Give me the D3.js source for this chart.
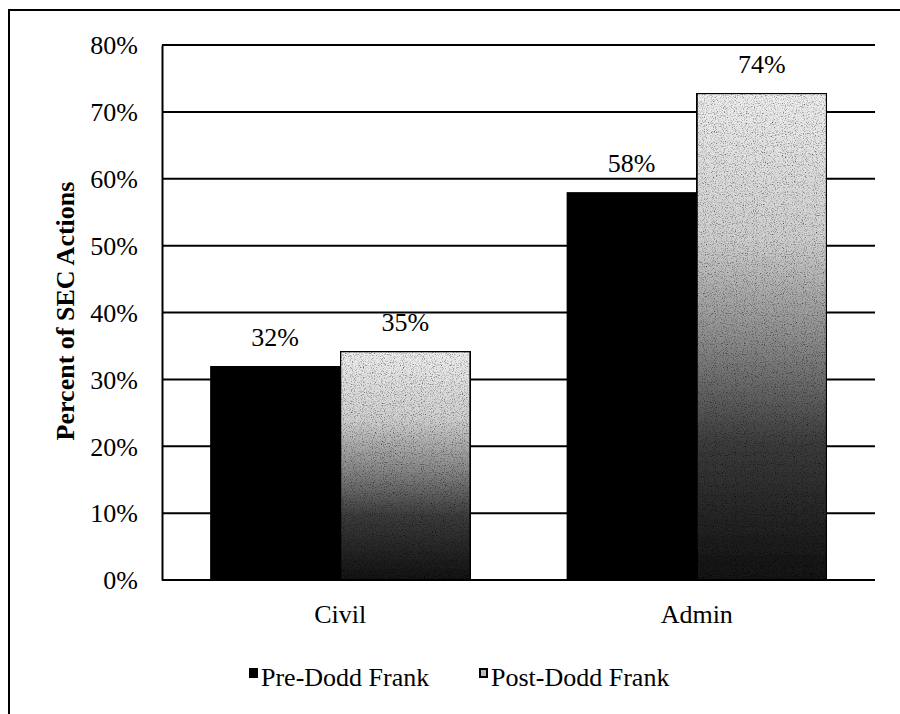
<!DOCTYPE html>
<html><head><meta charset="utf-8">
<script src="https://cdn.jsdelivr.net/npm/d3@7"></script>
<style>body{margin:0;background:#fff;} svg{display:block;} svg text{font-family:"Liberation Serif","Times New Roman",serif;fill:#000;}</style>
</head><body>
<svg id="chart" width="900" height="714"></svg>
<script>
const categories = ["Civil", "Admin"];
const seriesNames = ["Pre-Dodd Frank", "Post-Dodd Frank"];
const preValues = [32, 58];
const postValues = [34.2, 72.8];
const preLabels = ["32%", "58%"];
const postLabels = ["35%", "74%"];
const yTicks = [0, 10, 20, 30, 40, 50, 60, 70, 80];

const svg = d3.select("#chart");
const W = 900, H = 714;
const FS = 26;
const m = {left: 162, right: 25, top: 45, bottom: 134};
const x0 = d3.scaleBand().domain(categories).range([m.left, W - m.right]).paddingInner(0.27).paddingOuter(0.135);
const x1 = d3.scaleBand().domain(seriesNames).range([0, x0.bandwidth()]);
const y = d3.scaleLinear().domain([0, 80]).range([H - m.bottom, m.top]);

const defs = svg.append("defs");
const grad = defs.append("linearGradient").attr("id", "postGrad").attr("x1", 0).attr("y1", 0).attr("x2", 0).attr("y2", 1);
[[0, "#eeeeee"], [0.3, "#cfcfcf"], [0.5, "#8e8e8e"], [0.72, "#3c3c3c"], [1, "#121212"]]
  .forEach(([o, c]) => grad.append("stop").attr("offset", o).attr("stop-color", c));
const f = defs.append("filter").attr("id", "grain").attr("x", 0).attr("y", 0).attr("width", 1).attr("height", 1);
f.append("feTurbulence").attr("type", "fractalNoise").attr("baseFrequency", 0.9).attr("numOctaves", 2).attr("seed", 3).attr("result", "noise");
f.append("feColorMatrix").attr("in", "noise").attr("type", "matrix")
  .attr("values", "0 0 0 0 0  0 0 0 0 0  0 0 0 0 0  0 0 0 -2.2 1.15").attr("result", "dots");
f.append("feComposite").attr("in", "dots").attr("in2", "SourceGraphic").attr("operator", "atop").attr("result", "d2");
f.append("feMerge").selectAll("feMergeNode").data(["SourceGraphic", "d2"]).enter().append("feMergeNode").attr("in", d => d);

// outer border
svg.append("rect").attr("x", 9).attr("y", 10).attr("width", 1000).attr("height", 1000)
  .attr("fill", "none").attr("stroke", "#000").attr("stroke-width", 2);

// gridlines
svg.append("g").selectAll("line").data(yTicks).enter().append("line")
  .attr("x1", m.left).attr("x2", W - m.right)
  .attr("y1", d => y(d)).attr("y2", d => y(d))
  .attr("stroke", "#000").attr("stroke-width", 2);

// y axis
const yAxis = svg.append("g").attr("transform", `translate(${m.left},0)`)
  .call(d3.axisLeft(y).tickValues(yTicks).tickFormat(d => d + "%").tickSize(0).tickPadding(24));
yAxis.select(".domain").attr("stroke", "#000").attr("stroke-width", 2);
yAxis.selectAll("text").attr("font-size", FS).attr("dy", "0.34em");

// bars
const groups = svg.append("g").selectAll("g").data(categories).enter().append("g")
  .attr("transform", d => `translate(${x0(d)},0)`);
groups.append("rect").attr("x", x1(seriesNames[0])).attr("width", x1.bandwidth())
  .attr("y", (d, i) => y(preValues[i])).attr("height", (d, i) => y(0) - y(preValues[i]))
  .attr("fill", "#000");
groups.append("rect").attr("x", x1(seriesNames[1])).attr("width", x1.bandwidth())
  .attr("y", (d, i) => y(postValues[i])).attr("height", (d, i) => y(0) - y(postValues[i]))
  .attr("fill", "url(#postGrad)").attr("filter", "url(#grain)")
  .attr("stroke", "#000").attr("stroke-width", 2);

// value labels
groups.append("text").attr("x", x1(seriesNames[0]) + x1.bandwidth() / 2)
  .attr("y", (d, i) => y(preValues[i]) - 20).attr("text-anchor", "middle")
  .attr("font-size", FS).text((d, i) => preLabels[i]);
groups.append("text").attr("x", x1(seriesNames[1]) + x1.bandwidth() / 2)
  .attr("y", (d, i) => y(postValues[i]) - 20).attr("text-anchor", "middle")
  .attr("font-size", FS).text((d, i) => postLabels[i]);

// x axis labels
svg.append("g").selectAll("text").data(categories).enter().append("text")
  .attr("x", d => x0(d) + x0.bandwidth() / 2).attr("y", 623)
  .attr("text-anchor", "middle").attr("font-size", FS).text(d => d);

// y title
svg.append("text").attr("transform", "translate(74,311) rotate(-90)")
  .attr("text-anchor", "middle").attr("font-size", FS).attr("font-weight", "bold")
  .text("Percent of SEC Actions");

// legend
const legX = [249, 479];
const leg = svg.append("g").selectAll("g").data(seriesNames).enter().append("g")
  .attr("transform", (d, i) => `translate(${legX[i]},668)`);
leg.append("rect").attr("x", (d, i) => i === 0 ? 0 : 1).attr("y", (d, i) => i === 0 ? 0 : 1)
  .attr("width", (d, i) => i === 0 ? 9 : 7).attr("height", (d, i) => i === 0 ? 10 : 8)
  .attr("fill", (d, i) => i === 0 ? "#000" : "#bbb")
  .attr("stroke", "#000").attr("stroke-width", (d, i) => i === 0 ? 0 : 2);
leg.append("text").attr("x", 12).attr("y", 18).attr("font-size", FS).text(d => d);
</script>
</body></html>
